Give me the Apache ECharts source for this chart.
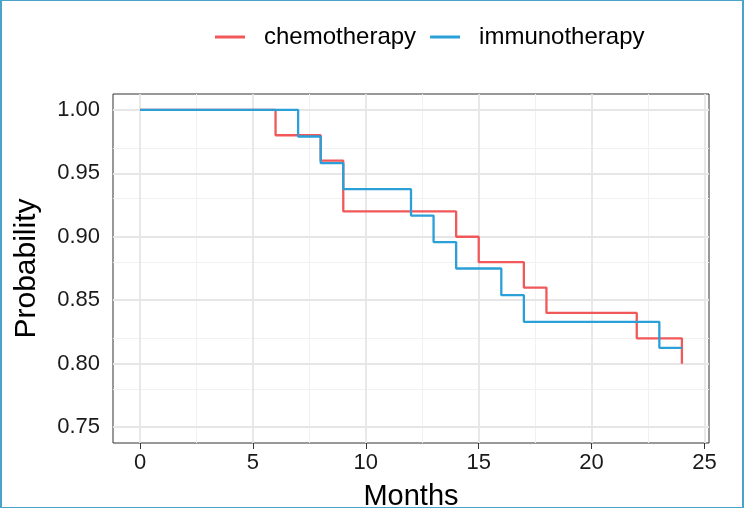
<!DOCTYPE html>
<html>
<head>
<meta charset="utf-8">
<script src="https://cdn.jsdelivr.net/npm/echarts@6/dist/echarts.min.js"></script>
<style>
html,body{margin:0;padding:0;background:#fff;}
#wrap{position:absolute;left:0;top:0;width:744px;height:508px;box-sizing:border-box;border-left:2px solid #4aa3c8;border-right:2px solid #4aa3c8;border-top:1px solid #4aa3c8;border-bottom:1px solid #4aa3c8;}
#chart{position:absolute;left:-2px;top:-1px;width:744px;height:508px;}
</style>
</head>
<body>
<div id="wrap"><div id="chart"></div></div>
<script>
// ---- data ----
var seriesNames = ['chemotherapy', 'immunotherapy'];
var chemoMonths = [0, 6, 8, 9, 14, 15, 17, 18, 22, 24];
var chemoProb   = [1.00, 0.98, 0.96, 0.92, 0.90, 0.88, 0.86, 0.84, 0.82, 0.80];
var immunoMonths = [0, 7, 8, 9, 12, 13, 14, 16, 17, 23, 24];
var immunoProb   = [1.00, 0.979, 0.958, 0.9375, 0.9167, 0.8958, 0.875, 0.854, 0.833, 0.8125, 0.8125];
var xTicks = [0, 5, 10, 15, 20, 25];
var xMinor = [2.5, 7.5, 12.5, 17.5, 22.5];
var yTicks = [0.75, 0.80, 0.85, 0.90, 0.95, 1.00];
var yMinor = [0.775, 0.825, 0.875, 0.925, 0.975];

var colors = ['#f0585a', '#2a9fd8'];
function pairs(xs, ys){ return xs.map(function(x,i){ return [x, ys[i]]; }); }

var gridLines = [];
xMinor.forEach(function(v){ gridLines.push({xAxis: v, lineStyle:{color:'#f1f1f1', width:1, type:'solid'}}); });
yMinor.forEach(function(v){ gridLines.push({yAxis: v, lineStyle:{color:'#f1f1f1', width:1, type:'solid'}}); });
xTicks.forEach(function(v){ gridLines.push({xAxis: v, lineStyle:{color:'#e6e6e6', width:1.8, type:'solid'}}); });
yTicks.forEach(function(v){ gridLines.push({yAxis: v, lineStyle:{color:'#e6e6e6', width:1.8, type:'solid'}}); });

var font = 'Liberation Sans, Arial, Helvetica, sans-serif';
var chart = echarts.init(document.getElementById('chart'), null, {renderer:'canvas'});
chart.setOption({
  animation: false,
  color: colors,
  textStyle: {fontFamily: font},
  grid: {left: 113, right: 35, top: 94, bottom: 65, show: true, borderColor: '#333333', borderWidth: 1,
    backgroundColor: '#fff', containLabel: false, outerBoundsMode: 'none'},
  legend: {
    data: seriesNames,
    left: 215, top: 25, padding: 0,
    icon: 'rect', itemWidth: 30, itemHeight: 3, itemGap: 14,
    textStyle: {fontSize: 24, color: '#000', fontFamily: font, padding: [0,0,0,14]}
  },
  xAxis: {
    type: 'value', min: -1.2, max: 25.2,
    name: 'Months', nameLocation: 'middle', nameGap: 39,
    nameTextStyle: {fontSize: 29, color: '#000', fontFamily: font},
    axisLine: {show: false},
    axisTick: {show: true, length: 6, lineStyle: {color: '#333', width: 1}, customValues: xTicks},
    axisLabel: {customValues: xTicks, fontSize: 22, color: '#1a1a1a', margin: 9, fontFamily: font},
    splitLine: {show: false}
  },
  yAxis: {
    type: 'value', min: 0.7375, max: 1.0125,
    name: 'Probability', nameLocation: 'middle', nameGap: 71,
    nameTextStyle: {fontSize: 30, color: '#000', fontFamily: font},
    axisLine: {show: false},
    axisTick: {show: true, length: 6, lineStyle: {color: '#333', width: 1}, customValues: yTicks},
    axisLabel: {customValues: yTicks, fontSize: 22, color: '#1a1a1a', margin: 13, fontFamily: font,
      formatter: function(v){ return v.toFixed(2); }},
    splitLine: {show: false}
  },
  series: [
    {
      name: '_grid', type: 'line', data: [], z: 1, silent: true,
      markLine: {silent: true, z: 1, symbol: ['none','none'], label: {show: false}, animation: false,
        lineStyle: {type: 'solid'}, emphasis: {disabled: true}, data: gridLines}
    },
    {
      name: seriesNames[0], type: 'line', step: 'end', z: 3,
      data: pairs(chemoMonths, chemoProb), showSymbol: false, symbol: 'none',
      lineStyle: {width: 2.3, color: colors[0]}, itemStyle: {color: colors[0]}
    },
    {
      name: seriesNames[1], type: 'line', step: 'end', z: 4,
      data: pairs(immunoMonths, immunoProb), showSymbol: false, symbol: 'none',
      lineStyle: {width: 2.3, color: colors[1]}, itemStyle: {color: colors[1]}
    }
  ]
});
</script>
</body>
</html>
